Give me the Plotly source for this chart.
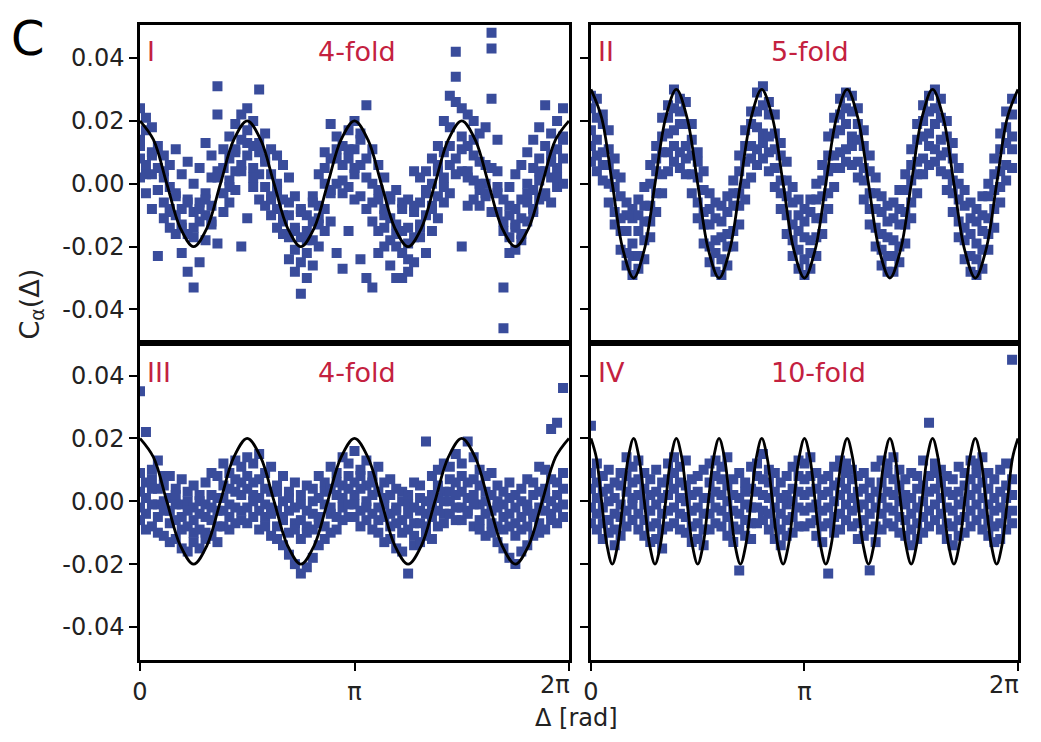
import numpy as np
import plotly.graph_objects as go

# ---------------- data (C values in units of 1e-3) ----------------
SCALE = 1e-3
angle_deg = list(range(0, 360, 5))          # 72 angle bins, 5 deg apart

x_tick_vals = [0, np.pi, 2 * np.pi]
x_tick_text = ["0", "π", "2π"]
y_tick_vals = [0.04, 0.02, 0.0, -0.02, -0.04]
y_tick_text = ["0.04", "0.02", "0.00", "-0.02", "-0.04"]
panel_numerals = ["I", "II", "III", "IV"]
panel_folds = ["4-fold", "5-fold", "4-fold", "10-fold"]

# Panel I (4-fold) scatter
p1_a = [24, 21, 18, 12, 9, 6, 11, 3, 7, 0, 5, 13, 9, 31, 11, 15, 19, 22,
        24, 20, 30, 16, 11, 9, 6, 2, -4, -8, -10, -6, 3, 10, 19, 15, 12, 17,
        20, 14, 25, 11, 6, 2, -4, -2, -6, -5, 4, 2, 4, 8, 12, 20, 28, 42,
        24, 22, 20, 16, 18, 48, 14, -5, -1, 3, 6, 10, 14, 18, 25, 16, 20, 24]
p1_b = [14, 17, 10, 5, 2, -1, -4, -8, -5, -9, -6, -3, 2, 22, 5, 8, 11, 14,
        17, 12, 13, 8, 3, -2, -5, -10, -14, -17, -15, -12, -7, 0, 8, 11, 6, 8,
        11, 6, 8, 0, -5, -8, -11, -13, -15, -14, -9, -6, -3, 0, 4, 10, 18, 34,
        15, 12, 9, 7, 6, 43, 4, -12, -10, -8, -5, 0, 5, 8, 12, 9, 11, 14]
p1_c = [8, 6, 3, -2, -6, -9, -10, -13, -16, -14, -12, -10, -7, 4, -3, 1, 4, 6,
        9, 5, 3, -1, -4, -8, -10, -17, -21, -25, -22, -18, -13, -8, -2, 0, -3, -1,
        3, -4, -8, -12, -15, -14, -18, -20, -22, -24, -17, -13, -10, -7, -4, 2, 6, 26,
        4, 2, 1, -2, 0, 27, -3, -33, -17, -14, -11, -6, -2, 1, 4, 2, 5, 8]
p1_d = [2, -3, -8, -23, -11, -14, -16, -22, -28, -33, -25, -18, -13, -19, -9, -6, -2, -20,
        -11, -1, -5, -7, -10, -14, -16, -24, -28, -35, -30, -26, -20, -15, -12, -22, -27, -15,
        -5, -24, -30, -33, -22, -20, -26, -30, -30, -28, -25, -17, -22, -15, -11, -6, -3, 8,
        -20, -7, -5, -7, -4, 5, -9, -46, -22, -21, -18, -12, -8, -5, -3, -6, -1, 0]
p1_e = [12, 3, 9, -2, 4, -8, -3, -14, -6, -17, -8, -5, -12, 2, 5, -1, 10, 4,
        13, 2, 10, 7, -5, 0, -12, -6, -15, -9, -18, -4, -11, 5, -3, 8, 1, 11,
        5, 16, 2, -6, -2, -10, -5, -16, -8, -19, -7, -14, -2, -8, 6, -1, 12, 3,
        11, 4, 14, 0, -3, -9, -1, -15, -7, -13, -16, -3, -9, 4, -4, 7, 2, 15]

# Panel II (5-fold) scatter
p2_a = [28, 27, 22, 17, 8, 2, -6, -8, -5, -1, 6, 12, 21, 25, 30, 27, 26, 19, 10, 4,
        -3, -6, -7, -4, 1, 9, 17, 23, 29, 31, 26, 22, 13, 7, -1, -5, -8, -5, 0, 6,
        15, 21, 27, 29, 28, 24, 17, 9, 2, -4, -7, -6, -2, 3, 11, 19, 25, 28, 30, 27,
        20, 13, 5, -2, -6, -8, -4, 0, 8, 16, 23, 27]
p2_b = [24, 21, 19, 11, 3, -4, -10, -11, -10, -7, 0, 8, 15, 21, 24, 23, 19, 14, 7, -2,
        -8, -11, -12, -9, -3, 4, 12, 19, 23, 25, 22, 16, 9, 1, -6, -10, -12, -9, -5, 1,
        9, 16, 22, 24, 23, 19, 12, 4, -3, -9, -12, -11, -8, -2, 6, 14, 20, 23, 24, 21,
        15, 8, 0, -7, -11, -12, -10, -4, 3, 11, 18, 22]
p2_c = [12, 9, 6, 0, -9, -15, -22, -23, -23, -18, -12, -3, 3, 10, 12, 10, 8, 3, -6, -13,
        -20, -22, -24, -20, -15, -7, 0, 8, 11, 13, 10, 5, -3, -10, -18, -21, -24, -22, -17, -11,
        -3, 5, 10, 11, 12, 7, 1, -8, -14, -21, -23, -23, -20, -13, -6, 3, 8, 12, 11, 9,
        3, -3, -12, -18, -23, -24, -21, -16, -8, -1, 6, 11]
p2_d = [7, 4, 1, -6, -13, -21, -26, -29, -27, -24, -17, -9, -3, 4, 7, 5, 3, -3, -11, -19,
        -25, -28, -29, -26, -20, -13, -5, 2, 6, 8, 4, -1, -8, -16, -23, -27, -29, -27, -23, -16,
        -8, -1, 5, 7, 6, 2, -5, -13, -20, -26, -28, -28, -25, -19, -11, -3, 3, 6, 7, 4,
        -2, -9, -17, -24, -28, -29, -27, -21, -14, -6, 1, 5]
p2_e = [17, 14, 10, 6, -1, -11, -15, -19, -15, -12, -7, 4, 10, 16, 17, 19, 12, 9, 2, -9,
        -13, -18, -17, -16, -7, -3, 7, 12, 18, 16, 15, 11, 1, -4, -13, -15, -17, -18, -11, -4,
        4, 9, 17, 19, 15, 14, 5, -3, -8, -16, -17, -18, -13, -9, 1, 7, 15, 16, 19, 14,
        10, 1, -5, -14, -16, -19, -15, -11, -2, 4, 13, 15]

# Panel III (4-fold) scatter
p3_a = [35, 22, 10, 13, 8, 8, 4, 7, 3, 5, 2, 6, 9, 8, 12, 9, 13, 11,
        14, 12, 15, 9, 11, 5, 8, 3, 6, 2, 5, 4, 8, 6, 11, 9, 14, 12,
        16, 10, 13, 8, 11, 6, 7, 4, 3, 2, 6, 5, 19, 8, 10, 12, 11, 15,
        12, 19, 14, 10, 8, 9, 5, 3, 6, 2, 4, 7, 6, 11, 10, 23, 25, 36]
p3_b = [9, 6, 7, 4, 5, 1, 2, -1, 0, -2, 0, -1, 2, 1, 5, 4, 7, 6,
        8, 6, 7, 4, 3, 3, 0, 1, -2, -1, -3, 0, 1, 3, 4, 6, 5, 8,
        6, 8, 5, 6, 3, 1, 2, -2, 0, -1, -2, 1, 0, 2, 5, 3, 7, 6,
        8, 6, 7, 5, 3, 2, 0, -1, 1, -2, 0, -1, 2, 3, 4, 7, 6, 9]
p3_c = [3, 1, 4, -1, 0, -3, -1, -5, -3, -6, -4, -5, -2, -3, 1, -1, 3, 2,
        4, 2, 1, -1, -2, -3, -5, -3, -7, -6, -8, -4, -5, -1, -2, 2, 1, 4,
        2, 4, 0, 2, -2, -1, -4, -3, -6, -4, -7, -3, -4, -1, 1, 0, 3, 2,
        3, 1, 2, -1, 0, -3, -2, -5, -4, -7, -5, -3, -4, -2, 1, 0, 2, 4]
p3_d = [-2, -4, -1, -5, -3, -7, -6, -9, -8, -10, -9, -10, -6, -8, -3, -5, -2, -3,
        -2, 0, -3, -5, -4, -8, -6, -10, -9, -12, -10, -9, -7, -8, -4, -5, -2, -1,
        -1, -3, -2, -4, -6, -5, -8, -7, -10, -9, -11, -7, -8, -5, -3, -4, 0, -2,
        -2, -3, -1, -6, -4, -7, -8, -9, -8, -11, -9, -8, -5, -7, -3, -4, -2, -1]
p3_e = [-6, -9, -8, -10, -11, -13, -12, -15, -16, -13, -15, -12, -11, -13, -8, -9, -7, -6,
        -7, -5, -9, -8, -11, -12, -14, -17, -20, -23, -21, -18, -14, -12, -10, -9, -6, -5,
        -5, -8, -6, -9, -10, -13, -12, -15, -16, -23, -14, -13, -11, -12, -8, -7, -4, -6,
        -6, -4, -8, -9, -11, -10, -13, -15, -18, -20, -16, -14, -11, -10, -9, -6, -7, -5]

# Panel IV (10-fold) scatter
p4_a = [24, 12, 8, 10, 6, 9, 14, 11, 13, 9, 7, 10, 6, 12, 14, 11, 13, 7, 8, 10,
        12, 13, 11, 14, 7, 9, 6, 11, 12, 15, 10, 9, 6, 8, 11, 13,
        12, 14, 9, 7, 8, 11, 13, 12, 10, 8, 9, 6, 11, 13, 12, 14, 10, 7, 9, 8,
        13, 25, 12, 10, 8, 7, 11, 9, 13, 12, 14, 9, 7, 10, 12, 45]
p4_b = [9, 6, 3, 4, 1, 5, 8, 6, 7, 4, 2, 3, 1, 7, 9, 6, 5, 2, 3, 1,
        6, 8, 7, 5, 2, 1, 3, 4, 8, 7, 6, 3, 1, 2, 4, 8,
        7, 8, 4, 2, 3, 5, 6, 9, 7, 3, 4, 1, 3, 6, 9, 7, 5, 2, 1, 4,
        5, 8, 9, 6, 3, 2, 3, 5, 7, 9, 6, 4, 1, 3, 5, 7]
p4_c = [4, 1, -2, 0, -4, -1, 3, 1, 2, -1, -3, -1, -4, 2, 4, 1, 0, -3, -2, -4,
        1, 3, 2, 0, -3, -4, -1, -2, 3, 2, 1, -2, -4, -1, 0, 3,
        2, 3, -1, -3, -2, 0, 2, 4, 1, -2, -1, -4, -2, 1, 3, 2, 0, -1, -4, -2,
        0, 3, 4, 1, -2, -3, -1, 0, 2, 4, 1, -1, -3, -2, 1, 2]
p4_d = [-2, -4, -7, -6, -9, -5, -3, -1, -4, -6, -8, -7, -9, -3, -2, -4, -5, -8, -7, -9,
        -4, -2, -3, -5, -8, -9, -6, -7, -2, -3, -4, -7, -9, -6, -5, -2,
        -3, -2, -6, -8, -7, -5, -4, -1, -3, -7, -6, -9, -8, -4, -2, -3, -5, -6, -9, -7,
        -5, -3, -1, -4, -7, -8, -6, -5, -3, -1, -4, -6, -8, -7, -4, -3]
p4_e = [-7, -9, -12, -10, -14, -11, -8, -6, -9, -11, -13, -12, -15, -8, -7, -9, -10, -13, -12, -14,
        -9, -7, -8, -11, -13, -22, -11, -12, -7, -6, -9, -12, -14, -11, -10, -8,
        -8, -7, -11, -13, -23, -10, -9, -6, -8, -12, -11, -22, -13, -9, -7, -8, -10, -11, -14, -12,
        -10, -8, -6, -9, -12, -14, -11, -10, -8, -6, -9, -11, -13, -12, -9, -7]

# Fit curves read at eighth-period points (units of 1e-3), evenly spread over [0, 2pi]
fit1 = [20, 14, 0, -14, -20, -14, 0, 14, 20, 14, 0, -14, -20, -14, 0, 14,
        20, 14, 0, -14, -20, -14, 0, 14, 20, 14, 0, -14, -20, -14, 0, 14, 20]
fit2 = [30, 21, 0, -21, -30, -21, 0, 21, 30, 21, 0, -21, -30, -21, 0, 21,
        30, 21, 0, -21, -30, -21, 0, 21, 30, 21, 0, -21, -30, -21, 0, 21,
        30, 21, 0, -21, -30, -21, 0, 21, 30]
fit3 = [20, 14, 0, -14, -20, -14, 0, 14, 20, 14, 0, -14, -20, -14, 0, 14,
        20, 14, 0, -14, -20, -14, 0, 14, 20, 14, 0, -14, -20, -14, 0, 14, 20]
fit4 = [20, 14, 0, -14, -20, -14, 0, 14, 20, 14, 0, -14, -20, -14, 0, 14,
        20, 14, 0, -14, -20, -14, 0, 14, 20, 14, 0, -14, -20, -14, 0, 14,
        20, 14, 0, -14, -20, -14, 0, 14, 20, 14, 0, -14, -20, -14, 0, 14,
        20, 14, 0, -14, -20, -14, 0, 14, 20, 14, 0, -14, -20, -14, 0, 14,
        20, 14, 0, -14, -20, -14, 0, 14, 20, 14, 0, -14, -20, -14, 0, 14, 20]

panels = [
    ([p1_a, p1_b, p1_c, p1_d, p1_e], fit1),
    ([p2_a, p2_b, p2_c, p2_d, p2_e], fit2),
    ([p3_a, p3_b, p3_c, p3_d, p3_e], fit3),
    ([p4_a, p4_b, p4_c, p4_d, p4_e], fit4),
]

# ---------------- styling ----------------
BLUE = "#394c9b"
RED = "#c4213f"
FONT = "DejaVu Sans"
TICKFONT = dict(family=FONT, size=24, color="#222222")
YR = [-0.0505, 0.0505]
XR = [0, 2 * np.pi]

fig = go.Figure()
theta = np.deg2rad(angle_deg)
for i, (series, fit) in enumerate(panels):
    xa = "x" if i == 0 else f"x{i+1}"
    ya = "y" if i == 0 else f"y{i+1}"
    xs = np.concatenate([theta[:len(s)] for s in series])
    ys = np.concatenate([np.array(s) * SCALE for s in series])
    fig.add_trace(go.Scatter(x=xs, y=ys, mode="markers", xaxis=xa, yaxis=ya,
                             marker=dict(symbol="square", size=10, color=BLUE,
                                         line=dict(width=0)),
                             showlegend=False, hoverinfo="skip"))
    fx = np.linspace(0, 2 * np.pi, len(fit))
    fig.add_trace(go.Scatter(x=fx, y=np.array(fit) * SCALE, mode="lines",
                             xaxis=xa, yaxis=ya,
                             line=dict(color="black", width=2.8, shape="spline",
                                       smoothing=1.0),
                             showlegend=False, hoverinfo="skip"))

xdom_l = [0.0, 0.4886]
xdom_r = [0.5136, 1.0]
ydom_t = [0.5, 1.0]
ydom_b = [0.0, 0.5]


def xaxis(dom, anchor, bottom):
    # labelled major ticks at 0 and pi; the 2pi tick mark comes from the minor
    # ticks and its label is drawn right-aligned as an annotation
    d = dict(domain=dom, anchor=anchor, range=XR, showline=True, linecolor="black",
             linewidth=2.5, mirror=True, showgrid=False, zeroline=False,
             tickvals=x_tick_vals[:-1], ticktext=x_tick_text[:-1], tickfont=TICKFONT)
    if bottom:
        d.update(ticks="outside", ticklen=8, tickwidth=2, tickcolor="black",
                 showticklabels=True,
                 minor=dict(ticks="outside", ticklen=8, tickwidth=2, tickcolor="black",
                            tickmode="linear", tick0=0, dtick=np.pi, showgrid=False))
    else:
        d.update(ticks="", showticklabels=False)
    return d


def yaxis(dom, anchor, labels):
    return dict(domain=dom, anchor=anchor, range=YR, showline=True, linecolor="black",
                linewidth=2.5, mirror=True, showgrid=False, zeroline=False,
                tickvals=y_tick_vals, ticktext=y_tick_text, ticks="outside",
                ticklen=8, tickwidth=2, tickcolor="black", showticklabels=labels,
                tickfont=TICKFONT)


def yaxis_inner(over, anchor):
    return dict(overlaying=over, anchor=anchor, side="right", range=YR,
                showline=False, showgrid=False, zeroline=False,
                tickvals=y_tick_vals, ticks="inside", ticklen=8, tickwidth=2,
                tickcolor="black", showticklabels=False)


# the page body adds 8 px around the figure, so the figure is 16 px smaller
fig.update_layout(
    width=1025, height=726,
    margin=dict(l=132, r=13, t=17, b=74),
    paper_bgcolor="white", plot_bgcolor="white",
    showlegend=False,
    xaxis=xaxis(xdom_l, "y", False),
    xaxis2=xaxis(xdom_r, "y2", False),
    xaxis3=xaxis(xdom_l, "y3", True),
    xaxis4=xaxis(xdom_r, "y4", True),
    yaxis=yaxis(ydom_t, "x", True),
    yaxis2=yaxis(ydom_t, "x2", False),
    yaxis3=yaxis(ydom_b, "x3", True),
    yaxis4=yaxis(ydom_b, "x4", False),
    yaxis5=yaxis_inner("y", "x"),
    yaxis6=yaxis_inner("y2", "x2"),
    yaxis7=yaxis_inner("y3", "x3"),
    yaxis8=yaxis_inner("y4", "x4"),
)

# right-aligned "2π" labels under the last tick of each bottom panel
for xa, ya in [("x3", "y3"), ("x4", "y4")]:
    fig.add_annotation(text=x_tick_text[-1], xref=xa, yref=f"{ya} domain",
                       x=x_tick_vals[-1], y=0, xanchor="right", yanchor="top",
                       yshift=-9, xshift=3, showarrow=False, font=TICKFONT)

# panel labels
label_pos = [("x", "y", 0.918), ("x2", "y2", 0.918), ("x3", "y3", 0.905), ("x4", "y4", 0.905)]
fold_x = [0.505, 0.514, 0.505, 0.533]
for i, (xa, ya, yy) in enumerate(label_pos):
    fig.add_annotation(text=panel_numerals[i], xref=f"{xa} domain", yref=f"{ya} domain",
                       x=0.012, y=yy, xanchor="left", yanchor="middle", showarrow=False,
                       font=dict(family=FONT, size=27, color=RED))
    fig.add_annotation(text=panel_folds[i], xref=f"{xa} domain", yref=f"{ya} domain",
                       x=fold_x[i], y=yy, xanchor="center", yanchor="middle", showarrow=False,
                       font=dict(family=FONT, size=27, color=RED))

# figure letter and axis titles
fig.add_annotation(text="C", xref="paper", yref="paper", x=-0.127, y=1.0265,
                   xanchor="center", yanchor="top", showarrow=False,
                   font=dict(family=FONT, size=48, color="black"))
fig.add_annotation(text="C<sub>α</sub>(Δ)", xref="paper", yref="paper", x=-0.124, y=0.56,
                   xanchor="center", yanchor="middle", textangle=-90, showarrow=False,
                   font=dict(family=FONT, size=27, color="#222222"))
fig.add_annotation(text="Δ [rad]", xref="paper", yref="paper", x=0.4966, y=-0.0915,
                   xanchor="center", yanchor="middle", showarrow=False,
                   font=dict(family=FONT, size=24, color="#222222"))

fig.write_html("out.html")
